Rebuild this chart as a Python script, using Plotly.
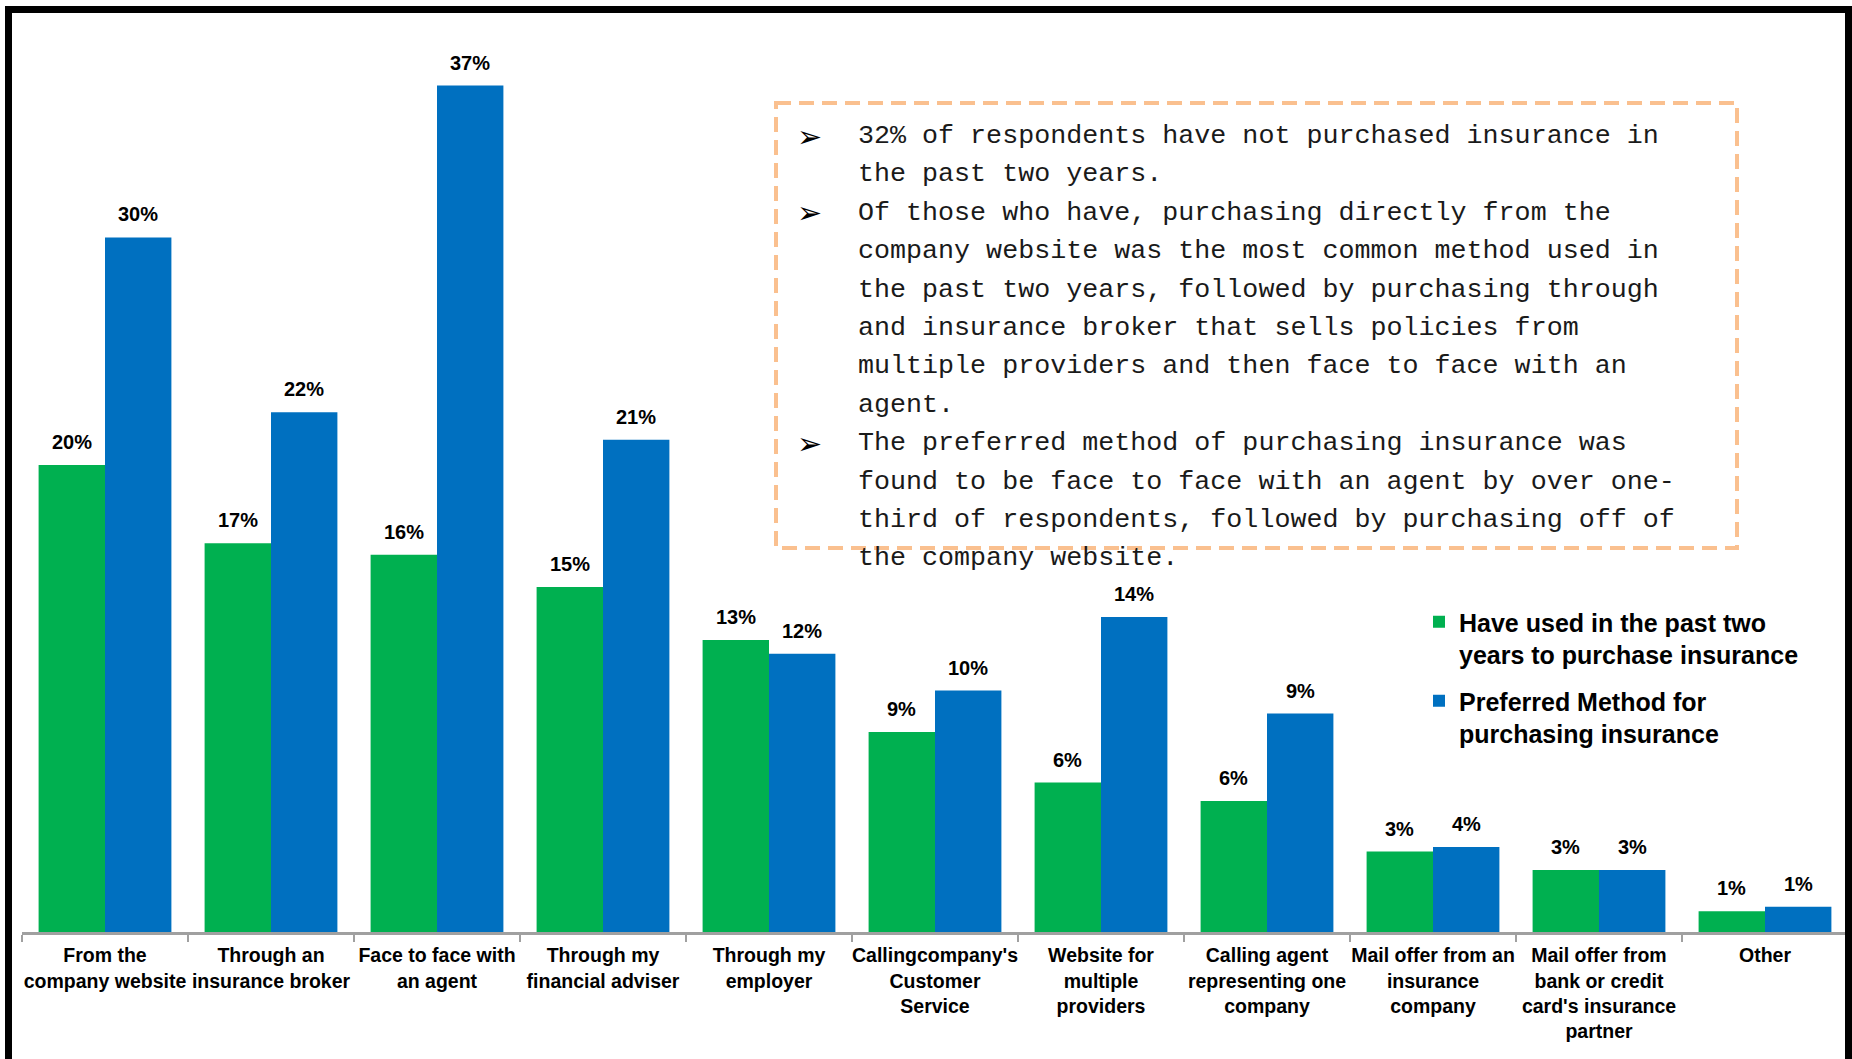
import plotly.graph_objects as go

# ---------------- data ----------------
categories = [
    "From the<br>company website",
    "Through an<br>insurance broker",
    "Face to face with<br>an agent",
    "Through my<br>financial adviser",
    "Through my<br>employer",
    "Callingcompany's<br>Customer<br>Service",
    "Website for<br>multiple<br>providers",
    "Calling agent<br>representing one<br>company",
    "Mail offer from an<br>insurance<br>company",
    "Mail offer from<br>bank or credit<br>card's insurance<br>partner",
    "Other",
]
used_vals = [20.3, 16.9, 16.4, 15.0, 12.7, 8.7, 6.5, 5.7, 3.5, 2.7, 0.9]
pref_vals = [30.2, 22.6, 36.8, 21.4, 12.1, 10.5, 13.7, 9.5, 3.7, 2.7, 1.1]
used_labels = ["20%", "17%", "16%", "15%", "13%", "9%", "6%", "6%", "3%", "3%", "1%"]
pref_labels = ["30%", "22%", "37%", "21%", "12%", "10%", "14%", "9%", "4%", "3%", "1%"]

series_names = [
    "Have used in the past two<br>years to purchase insurance",
    "Preferred Method for<br>purchasing insurance",
]

note_lines = [
    "32% of respondents have not purchased insurance in",
    "the past two years.",
    "Of those who have, purchasing directly from the",
    "company website was the most common method used in",
    "the past two years, followed by purchasing through",
    "and insurance broker that sells policies from",
    "multiple providers and then face to face with an",
    "agent.",
    "The preferred method of purchasing insurance was",
    "found to be face to face with an agent by over one-",
    "third of respondents, followed by purchasing off of",
    "the company website.",
]
bullet_lines = [0, 2, 8]

# ---------------- layout geometry ----------------
W, H = 1852, 1059
ML, MR, MT, MB = 22, 4, 12, 127
PW, PH = W - ML - MR, H - MT - MB


def px2x(px):
    return (px - ML) / PW


def px2y(py):
    return (H - MB - py) / PH


GREEN = "#00B050"
BLUE = "#0070C0"
LABEL_FONT = dict(family="Liberation Sans, Arial, sans-serif", size=20, color="#000000", weight="bold")

fig = go.Figure()
fig.add_trace(go.Bar(x=categories, y=used_vals, name=series_names[0],
                     marker=dict(color=GREEN, line=dict(width=0)), legendgroup="a"))
fig.add_trace(go.Bar(x=categories, y=pref_vals, name=series_names[1],
                     marker=dict(color=BLUE, line=dict(width=0)), legendgroup="b"))

half_bar = PW / len(categories) * 0.8 / 4
annotations = []
for cat, v, t in zip(categories, used_vals, used_labels):
    annotations.append(dict(x=cat, y=v, text=t, xref="x", yref="y", showarrow=False,
                            xshift=-half_bar, yshift=23, yanchor="middle", font=LABEL_FONT))
for cat, v, t in zip(categories, pref_vals, pref_labels):
    annotations.append(dict(x=cat, y=v, text=t, xref="x", yref="y", showarrow=False,
                            xshift=half_bar, yshift=23, yanchor="middle", font=LABEL_FONT))

# note text box lines
NOTE_FONT = dict(family="Liberation Mono, Courier New, monospace", size=26.7, color="#1a1a1a")
line0, step = 136, 38.4
for i, ln in enumerate(note_lines):
    annotations.append(dict(x=px2x(856), y=px2y(line0 + i * step), xref="paper", yref="paper",
                            text=ln, showarrow=False, xanchor="left", yanchor="middle",
                            font=NOTE_FONT))
for i in bullet_lines:
    annotations.append(dict(x=px2x(809), y=px2y(line0 + i * step), xref="paper", yref="paper",
                            text="➢", showarrow=False, xanchor="center", yanchor="middle",
                            font=dict(family="DejaVu Sans", size=30, color="#000000")))

shapes = [
    # dashed note box
    dict(type="rect", xref="paper", yref="paper",
         x0=px2x(776), x1=px2x(1737), y0=px2y(103), y1=px2y(548),
         line=dict(color="#FAC08F", width=4, dash="15px,8px"), fillcolor="rgba(0,0,0,0)",
         layer="above"),
    # outer black frame (top, left, right)
    dict(type="line", xref="paper", yref="paper", x0=px2x(5), x1=px2x(1852), y0=px2y(9.5), y1=px2y(9.5),
         line=dict(color="#000000", width=7)),
    dict(type="line", xref="paper", yref="paper", x0=px2x(8.5), x1=px2x(8.5), y0=px2y(6), y1=px2y(1059),
         line=dict(color="#000000", width=7)),
    dict(type="line", xref="paper", yref="paper", x0=px2x(1848.5), x1=px2x(1848.5), y0=px2y(6), y1=px2y(1059),
         line=dict(color="#000000", width=7)),
]

fig.update_layout(
    width=W, height=H,
    margin=dict(l=ML, r=MR, t=MT, b=MB, pad=0, autoexpand=False),
    paper_bgcolor="#FFFFFF", plot_bgcolor="#FFFFFF",
    barmode="group", bargap=0.2, bargroupgap=0,
    showlegend=True,
    legend=dict(x=px2x(1419), y=px2y(599), xanchor="left", yanchor="top",
                font=dict(family="Liberation Sans, Arial, sans-serif", size=25, color="#000000", weight="bold"),
                bgcolor="rgba(0,0,0,0)", borderwidth=0, valign="top", itemwidth=30,
                tracegroupgap=11, traceorder="grouped"),
    xaxis=dict(type="category", range=[-0.5, len(categories) - 0.5], showline=True,
               linecolor="#A0A0A0", linewidth=3, ticks="outside", tickson="boundaries",
               ticklen=7, tickwidth=2, tickcolor="#A0A0A0", showgrid=False, zeroline=False,
               tickangle=0, automargin=False, ticklabelstandoff=4,
               tickfont=dict(family="Liberation Sans, Arial, sans-serif", size=19.5, color="#000000", weight="bold"),
               fixedrange=True),
    yaxis=dict(range=[0, 40], visible=False, showgrid=False, zeroline=False, fixedrange=True,
               automargin=False),
    annotations=annotations,
    shapes=shapes,
)

fig.write_html("out.html")
